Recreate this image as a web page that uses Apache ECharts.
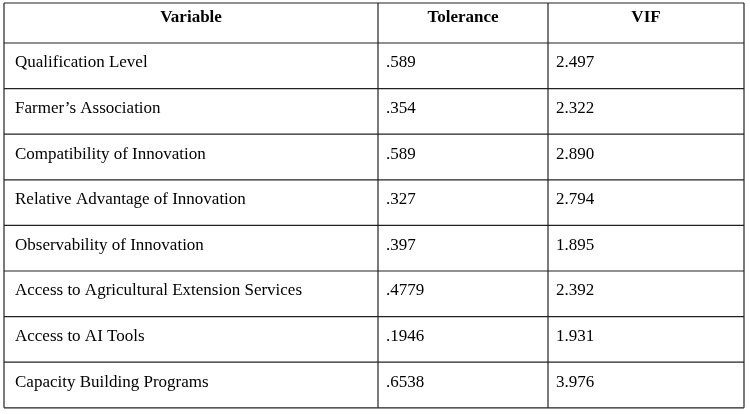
<!DOCTYPE html><html><head><meta charset="utf-8"><script src="https://cdn.jsdelivr.net/npm/echarts@6/dist/echarts.min.js"></script>
<style>html,body{margin:0;background:#fff}#c{width:750px;height:414px}</style></head><body><div id="c"></div><script>
const headers=["Variable","Tolerance","VIF"];
const variables=["Qualification Level","Farmer’s Association","Compatibility of Innovation","Relative Advantage of Innovation","Observability of Innovation","Access to Agricultural Extension Services","Access to AI Tools","Capacity Building Programs"];
const tolerance=[".589",".354",".589",".327",".397",".4779",".1946",".6538"];
const vif=["2.497","2.322","2.890","2.794","1.895","2.392","1.931","3.976"];
(function(){
const colX=[4,378,548,744], tableTop=3, headH=40, rowH=45.6;
const font="Liberation Serif, Times New Roman, serif";
const els=[];
const nRows=variables.length, bottom=tableTop+headH+rowH*nRows;
const line=(x1,y1,x2,y2)=>els.push({type:'line',shape:{x1,y1,x2,y2},style:{stroke:'#222',lineWidth:1.2}});
line(colX[0],tableTop,colX[3],tableTop);
for(let i=0;i<=nRows;i++){const y=tableTop+headH+rowH*i;line(colX[0],y,colX[3],y);}
colX.forEach(x=>line(x,tableTop,x,bottom));
headers.forEach((h,j)=>els.push({type:'text',x:(colX[j]+colX[j+1])/2,y:tableTop+15,style:{text:h,font:"bold 17px "+font,fill:'#000',align:'center',verticalAlign:'middle'}}));
const cols=[variables,tolerance,vif];
for(let i=0;i<nRows;i++){const y=tableTop+headH+rowH*i+20;
 cols.forEach((c,j)=>els.push({type:'text',x:colX[j]+(j==0?11:8),y,style:{text:c[i],font:"17px "+font,fill:'#000',align:'left',verticalAlign:'middle'}}));}
const ch=echarts.init(document.getElementById('c'));
ch.setOption({animation:false,graphic:els});
})();
</script></body></html>
